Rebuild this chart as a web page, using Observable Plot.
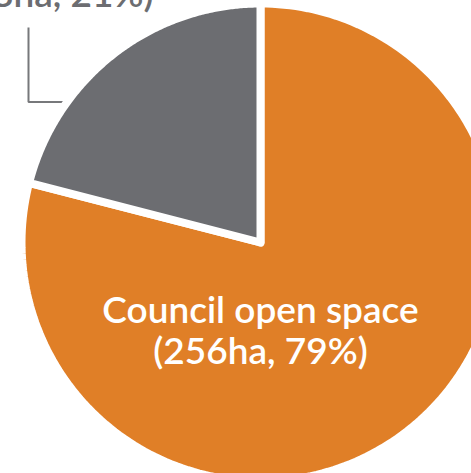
<!DOCTYPE html>
<html>
<head>
<meta charset="utf-8">
<script src="https://cdn.jsdelivr.net/npm/d3@7"></script>
<script src="https://cdn.jsdelivr.net/npm/@observablehq/plot@0.6"></script>
<style>
  html, body { margin: 0; padding: 0; background: #fff; }
  svg { display: block; }
</style>
</head>
<body>
<div id="chart"></div>
<script>
// Data
const categories = ["Council open space", "Other open space"];
const hectares = [256, 68];
const percents = [79, 21];
const colors = ["#e07f27", "#6c6d71"];
const labels = ["Council open space\n(256ha, 79%)", "(68ha, 21%)"];

const W = 471, H = 473;
const cx = 260, cy = 242, R = 239;

const slices = categories.map((c, i) => ({category: c, value: hectares[i]}));
const arcs = d3.pie().value(d => d.value)(slices);

// polygon points for each slice from pie angles
const pts = [];
for (const a of arcs) {
  const cat = a.data.category;
  pts.push({category: cat, x: 0, y: 0});
  const n = 200;
  for (let k = 0; k <= n; k++) {
    const t = a.startAngle + (a.endAngle - a.startAngle) * k / n;
    pts.push({category: cat, x: Math.sin(t), y: Math.cos(t)});
  }
  pts.push({category: cat, x: 0, y: 0});
}

// leader line for small slice label (annotation geometry)
const grayArc = arcs.find(a => a.data.category === categories[1]);
const leaderAngle = grayArc.startAngle + (grayArc.endAngle - grayArc.startAngle) * 0.3;
const lr = 0.975;
const lp = {x: lr * Math.sin(leaderAngle), y: lr * Math.cos(leaderAngle)};
const lx = (28 - cx) / R;
const ltop = (cy - 27) / R;
const leader = [
  {x: lx, y: ltop},
  {x: lx, y: lp.y},
  {x: lp.x, y: lp.y}
];

const chart = Plot.plot({
  width: W,
  height: H,
  margin: 0,
  x: {domain: [-1, 1], range: [cx - R, cx + R], axis: null},
  y: {domain: [-1, 1], range: [cy + R, cy - R], axis: null},
  color: {domain: categories, range: colors},
  style: {background: "#fff"},
  marks: [
    Plot.line(leader, {x: "x", y: "y", stroke: "#77787b", strokeWidth: 2, strokeLinejoin: "miter", strokeLinecap: "butt"}),
    Plot.line(pts, {x: "x", y: "y", z: "category", fill: "category", stroke: "white", strokeWidth: 8, strokeLinejoin: "miter", strokeMiterlimit: 10}),
    Plot.text([labels[0]], {
      x: 0, y: -0.366, text: d => d,
      fill: "white", fontSize: 37, fontWeight: 600, fontFamily: "Lato",
      lineHeight: 1.12, textAnchor: "middle", lineAnchor: "middle"
    }),
    Plot.text([labels[1]], {
      x: (153 - cx) / R, y: (cy - 6) / R, text: d => d,
      fill: "#6c6d71", fontSize: 37, fontWeight: 600, fontFamily: "Lato",
      textAnchor: "end", lineAnchor: "bottom"
    })
  ]
});
document.getElementById("chart").appendChild(chart);
</script>
</body>
</html>
